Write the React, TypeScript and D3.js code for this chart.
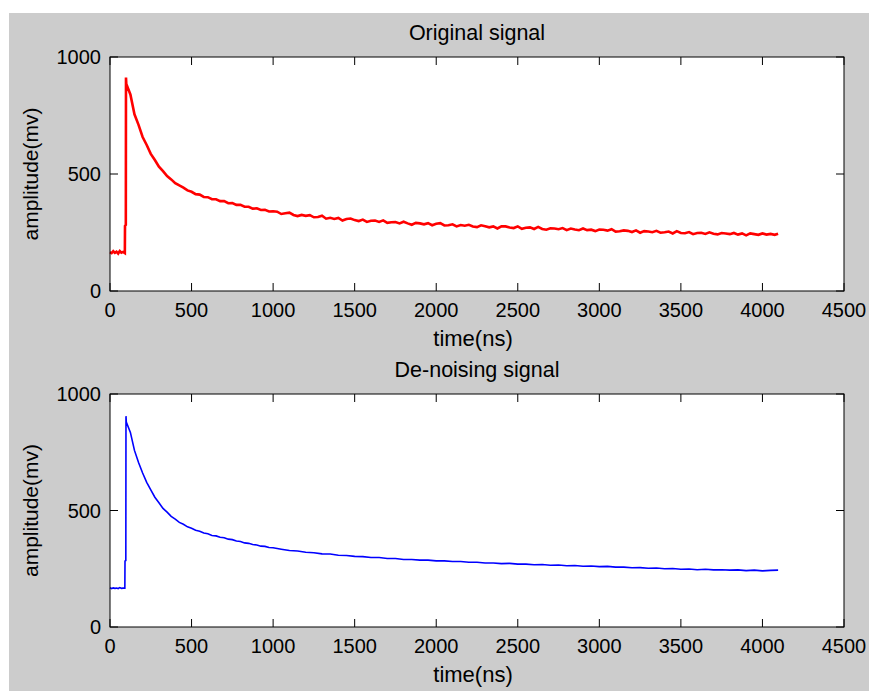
import React from "react";
import * as d3 from "d3";

const TIME = [0,10,20,30,40,50,60,70,80,91,92,97,98,
100,125,150,175,200,225,250,275,300,325,350,375,400,425,450,475,500,525,550,575,600,625,650,675,700,725,750,775,800,825,850,875,900,925,950,975,1000,
1050,1100,1150,1200,1250,1300,1350,1400,1450,1500,
1550,1600,1650,1700,1750,1800,1850,1900,1950,2000,
2050,2100,2150,2200,2250,2300,2350,2400,2450,2500,
2550,2600,2650,2700,2750,2800,2850,2900,2950,3000,
3050,3100,3150,3200,3250,3300,3350,3400,3450,3500,
3550,3600,3650,3700,3750,3800,3850,3900,3950,4000,
4050,4096];

const ORIGINAL_TIME = [0,10,20,30,40,50,60,70,80,91,92,97,98,
100,125,150,175,200,225,250,275,300,325,350,375,400,425,450,475,500,525,550,575,600,625,650,675,700,725,750,775,800,825,850,875,900,925,950,975,1000,
1025,1050,1075,1100,1125,1150,1175,1200,1225,1250,1275,1300,1325,1350,1375,1400,1425,1450,1475,1500,
1525,1550,1575,1600,1625,1650,1675,1700,1725,1750,1775,1800,1825,1850,1875,1900,1925,1950,1975,2000,
2025,2050,2075,2100,2125,2150,2175,2200,2225,2250,2275,2300,2325,2350,2375,2400,2425,2450,2475,2500,
2525,2550,2575,2600,2625,2650,2675,2700,2725,2750,2775,2800,2825,2850,2875,2900,2925,2950,2975,3000,
3025,3050,3075,3100,3125,3150,3175,3200,3225,3250,3275,3300,3325,3350,3375,3400,3425,3450,3475,3500,
3525,3550,3575,3600,3625,3650,3675,3700,3725,3750,3775,3800,3825,3850,3875,3900,3925,3950,3975,4000,
4025,4050,4075,4096];

const ORIGINAL = [166,162,170,163,168,160,171,164,167,162,278,283,912,
885,840,755,710,658,624,586,560,531,512,491,477,461,451,442,430,424,414,412,402,401,392,392,384,384,375,376,368,368,360,360,352,353,346,347,340,341,
339,329,332,335,325,320,325,321,324,315,316,322,309,313,308,312,301,308,310,303,
299,305,295,300,301,295,302,291,294,295,289,296,289,283,291,289,285,290,281,287,
290,280,281,285,276,282,279,283,276,273,281,277,272,276,267,276,276,271,269,276,
266,270,272,265,274,265,262,268,267,264,269,260,267,263,260,267,260,262,256,263,
262,258,264,254,255,259,257,252,259,249,256,254,251,257,249,251,254,246,256,248,
247,252,243,248,249,244,251,245,242,248,246,243,248,241,246,238,246,243,240,246,
241,244,240,245];

const DENOISED = [168,165,168,166,167,165,169,166,167,167,283,285,905,
880,835,758,706,661,621,589,557,533,509,493,475,463,449,441,430,424,415,411,403,400,393,391,385,383,377,375,369,367,361,359,354,352,347,346,341,340,
334,328,326,321,319,314,313,308,307,303,
302,298,298,294,294,290,290,287,287,284,
284,281,281,278,278,275,275,272,273,270,
270,267,268,265,266,263,264,261,262,259,
260,257,257,254,255,252,253,250,251,248,
249,246,248,245,246,244,245,242,244,241,
243,244];

const X_TICKS = [0,500,1000,1500,2000,2500,3000,3500,4000,4500];
const Y_TICKS = [0,500,1000];

const W = 869, H = 691;
const FONT = "'Liberation Sans', Arial, sans-serif";

function Panel({ top, bottom, title, times, values, color, sw }: any) {
  const left = 110, right = 844;
  const x = d3.scaleLinear().domain([0, 4500]).range([left, right]);
  const y = d3.scaleLinear().domain([0, 1000]).range([bottom, top]);
  const data = times.map((t: number, i: number) => [t, values[i]] as [number, number]).filter((d: any) => d[1] != null);
  const line = d3.line<[number, number]>().x(d => x(d[0])).y(d => y(d[1]));
  const tl = 8;
  return (
    <g>
      <rect x={left} y={top} width={right - left} height={bottom - top} fill="#fff" />
      <path d={line(data) || ""} fill="none" stroke={color} strokeWidth={sw} strokeLinejoin="miter" />
      <rect x={left} y={top} width={right - left} height={bottom - top} fill="none" stroke="#000" strokeWidth={1} />
      {X_TICKS.map(t => (
        <g key={"x" + t}>
          <line x1={x(t)} x2={x(t)} y1={bottom} y2={bottom - tl} stroke="#000" />
          <line x1={x(t)} x2={x(t)} y1={top} y2={top + tl} stroke="#000" />
          <text x={x(t)} y={bottom + 26} textAnchor="middle" fontSize={20} fontFamily={FONT} fill="#000">{t}</text>
        </g>
      ))}
      {Y_TICKS.map(t => (
        <g key={"y" + t}>
          <line x1={left} x2={left + tl} y1={y(t)} y2={y(t)} stroke="#000" />
          <line x1={right} x2={right - tl} y1={y(t)} y2={y(t)} stroke="#000" />
          <text x={101} y={y(t)} dy="0.36em" textAnchor="end" fontSize={20} fontFamily={FONT} fill="#000">{t}</text>
        </g>
      ))}
      <text x={(left + right) / 2} y={top - 17} textAnchor="middle" fontSize={21.5} fontFamily={FONT} fill="#000">{title}</text>
      <text x={(left + right) / 2 - 4} y={bottom + 55} textAnchor="middle" fontSize={22} fontFamily={FONT} fill="#000">time(ns)</text>
      <text transform={`translate(31,${(top + bottom) / 2}) rotate(-90)`} dy="0.35em" textAnchor="middle" fontSize={21} fontFamily={FONT} fill="#000">amplitude(mv)</text>
    </g>
  );
}

export default function App() {
  return (
    <div style={{ position: "absolute", left: 0, top: 0 }}>
      <svg width={W} height={H} style={{ display: "block" }}>
        <rect x={0} y={0} width={W} height={H} fill="#fff" />
        <rect x={9} y={13} width={W - 9} height={H - 13} fill="#cccccc" />
        <Panel top={57} bottom={291} title="Original signal" times={ORIGINAL_TIME} values={ORIGINAL} color="#ff0000" sw={2.6} />
        <Panel top={394} bottom={627} title="De-noising signal" times={TIME} values={DENOISED} color="#0000ff" sw={1.6} />
      </svg>
    </div>
  );
}
